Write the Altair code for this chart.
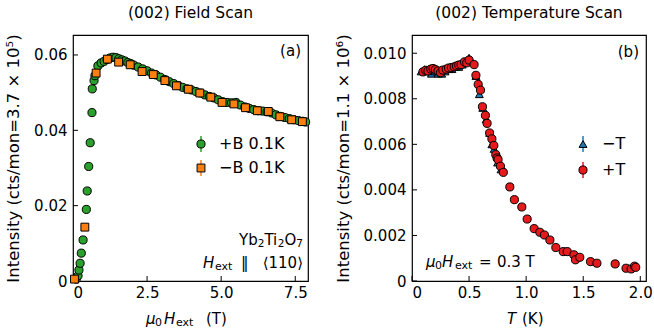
import altair as alt
import pandas as pd

FONT = "DejaVu Sans"
FS = 15
LFS = 16

# ---------------- data: (002) field scan ----------------
pB_field = [0.11, 0.17, 0.20, 0.24, 0.28, 0.34, 0.45, 0.48, 0.53, 0.58, 0.64, 0.65, 0.71, 0.74,
            0.84, 0.95, 1.05, 1.15, 1.25, 1.35, 1.45, 1.55, 1.65, 1.75, 1.85, 1.95, 2.05, 2.2, 2.35,
            2.5, 2.65, 2.8, 2.95, 3.1, 3.25, 3.4, 3.55, 3.7, 3.85, 4.0, 4.15, 4.3, 4.45, 4.6, 4.75,
            4.9, 5.05, 5.2, 5.35, 5.5, 5.65, 5.8, 5.95, 6.1, 6.25, 6.4, 6.55, 6.7, 6.85, 7.0, 7.15,
            7.3, 7.45, 7.6, 7.75, 7.85]
pB_int = [0.0005, 0.0014, 0.0029, 0.0047, 0.0074, 0.0109, 0.0190, 0.0239, 0.0304, 0.0367, 0.0447,
          0.0510, 0.0532, 0.0545, 0.0571, 0.0579, 0.0583, 0.0588, 0.0592, 0.0594, 0.0593, 0.0590,
          0.0587, 0.0584, 0.0580, 0.0577, 0.0573, 0.0568, 0.0563, 0.0558, 0.0552, 0.0547, 0.0541,
          0.0535, 0.0529, 0.0524, 0.0519, 0.0514, 0.0510, 0.0507, 0.0503, 0.0499, 0.0494, 0.0490,
          0.0486, 0.0481, 0.0476, 0.0474, 0.0473, 0.0474, 0.0467, 0.0462, 0.0458, 0.0455, 0.0452,
          0.0451, 0.0449, 0.0446, 0.0441, 0.0437, 0.0434, 0.0431, 0.0428, 0.0426, 0.0424, 0.0422]

mB_field = [0.05, 0.40, 0.78, 1.16, 1.54, 1.93, 2.33, 2.71, 3.10, 3.49, 3.89, 4.28, 4.65, 5.03,
            5.43, 5.82, 6.22, 6.59, 6.98, 7.38, 7.74]
mB_int = [0.0005, 0.0143, 0.0552, 0.0589, 0.0581, 0.0574, 0.0556, 0.0548, 0.0532, 0.0518, 0.0509,
          0.0499, 0.0488, 0.0474, 0.0470, 0.0460, 0.0452, 0.0450, 0.0436, 0.0428, 0.0423]

# ---------------- data: (002) temperature scan ----------------
mT_temp = [0.08, 0.11, 0.14, 0.17, 0.20, 0.23, 0.26, 0.29, 0.32, 0.35, 0.38, 0.41, 0.44, 0.47,
           0.50, 0.53, 0.56, 0.59, 0.62, 0.65, 0.68, 0.70, 0.72, 0.75, 0.78]
mT_int = [0.0092, 0.0093, 0.0092, 0.0091, 0.0092, 0.0091, 0.0091, 0.0092, 0.0093, 0.0093, 0.0094,
          0.0094, 0.0095, 0.0096, 0.0098, 0.0096, 0.0090, 0.0082, 0.0076, 0.0071, 0.0065, 0.0060,
          0.0058, 0.0052, 0.0049]

pT_temp = [0.096, 0.12, 0.14, 0.165, 0.184, 0.205, 0.228, 0.25, 0.27, 0.30, 0.32, 0.345, 0.37,
           0.39, 0.41, 0.43, 0.46, 0.48, 0.50, 0.544, 0.56, 0.58, 0.60, 0.617, 0.643, 0.658, 0.68,
           0.70, 0.717, 0.734, 0.745, 0.754, 0.775, 0.80, 0.857, 0.897, 0.962, 1.009, 1.07, 1.12,
           1.16, 1.208, 1.26, 1.325, 1.36, 1.418, 1.432, 1.47, 1.564, 1.62, 1.78, 1.875, 1.92,
           1.95, 1.96]
pT_int = [0.00918, 0.00925, 0.00922, 0.0093, 0.00933, 0.00928, 0.00922, 0.00915, 0.00926, 0.0093,
          0.00935, 0.00937, 0.0094, 0.00944, 0.00948, 0.0095, 0.00962, 0.00958, 0.0097, 0.0095,
          0.00903, 0.00863, 0.00838, 0.00765, 0.00727, 0.00692, 0.0065, 0.00624, 0.00595, 0.00555,
          0.0054, 0.00533, 0.00504, 0.00477, 0.00413, 0.00357, 0.00325, 0.00272, 0.0023, 0.00214,
          0.00202, 0.0018, 0.00147, 0.00129, 0.00129, 0.00115, 0.00093, 0.00104, 0.00085, 0.00078,
          0.00075, 0.00056, 0.00053, 0.00065, 0.0006]

field_xticks = [0, 2.5, 5.0, 7.5]
field_yticks = [0, 0.02, 0.04, 0.06]
temp_xticks = [0, 0.5, 1.0, 1.5, 2.0]
temp_yticks = [0, 0.002, 0.004, 0.006, 0.008, 0.010]

GREEN, ORANGE, BLUE, RED = "#2ca02c", "#ff7f0e", "#1f77b4", "#e41a1c"
W, H = 235, 246


def txt(s, x, y, size=FS, style="normal", align="left", baseline="middle"):
    return alt.Chart(pd.DataFrame({"t": [s]})).mark_text(
        align=align, baseline=baseline, fontSize=size, fontStyle=style, font=FONT, color="black"
    ).encode(x=alt.value(x), y=alt.value(y), text="t:N")


def sym(shape, color, x, y, size):
    bar = alt.Chart(pd.DataFrame({"a": [0]})).mark_rule(color=color, strokeWidth=1.5).encode(
        x=alt.value(x), y=alt.value(y - 8), y2=alt.value(y + 8))
    pt = alt.Chart(pd.DataFrame({"a": [0]})).mark_point(
        shape=shape, filled=True, fill=color, stroke="black", strokeWidth=1, size=size, opacity=1
    ).encode(x=alt.value(x), y=alt.value(y))
    return [bar, pt]


def panel(xdom, ydom, xt, yt, xfmt, yfmt, ytitle):
    xs = alt.Scale(domain=xdom, nice=False, zero=False)
    ys = alt.Scale(domain=ydom, nice=False, zero=False)
    xlab = f"datum.value == 0 ? '0' : format(datum.value, '{xfmt}')"
    ylab = f"datum.value == 0 ? '0' : format(datum.value, '{yfmt}')"
    xax = alt.Axis(values=xt, labelExpr=xlab, title=None)
    yax = alt.Axis(values=yt, labelExpr=ylab, title=ytitle)
    xtick = alt.Chart(pd.DataFrame({"v": xt})).mark_rule(color="black", strokeWidth=1).encode(
        x=alt.X("v:Q", scale=xs, axis=xax), y=alt.value(H), y2=alt.value(H - 5))
    ytick = alt.Chart(pd.DataFrame({"v": yt})).mark_rule(color="black", strokeWidth=1).encode(
        y=alt.Y("v:Q", scale=ys, axis=yax), x=alt.value(0), x2=alt.value(5))
    return xs, ys, xtick, ytick


def pts(xv, yv, shape, color, size, xs, ys):
    df = pd.DataFrame({"x": xv, "y": yv})
    return alt.Chart(df).mark_point(
        shape=shape, filled=True, fill=color, stroke="black", strokeWidth=1, size=size, opacity=1
    ).encode(x=alt.X("x:Q", scale=xs), y=alt.Y("y:Q", scale=ys))


# ---------- left panel ----------
xs1, ys1, xt1, yt1 = panel([0, 7.93], [0, 0.0653], field_xticks, field_yticks, ".1f", ".2f",
                           "Intensity (cts/mon=3.7 × 10⁵)")
left = alt.layer(
    xt1, yt1,
    pts(pB_field, pB_int, "circle", GREEN, 66, xs1, ys1),
    pts(mB_field, mB_int, "square", ORANGE, 62, xs1, ys1),
    *sym("circle", GREEN, 128, 109, 66),
    *sym("square", ORANGE, 128, 133, 62),
    txt("+B 0.1K", 146, 109, size=LFS),
    txt("−B 0.1K", 146, 133, size=LFS),
    txt("(a)", 228, 16, align="right"),
    txt("Yb", 166, 205),
    txt("2", 184.7, 209, size=10.5),
    txt("Ti", 191.4, 205),
    txt("2", 204.7, 209, size=10.5),
    txt("O", 211.4, 205),
    txt("7", 223.2, 209, size=10.5),
    txt("H", 130, 228, style="italic"),
    txt("ext", 142, 232, size=11),
    txt("‖", 168, 228),
    txt("⟨110⟩", 230, 228, align="right"),
    txt("μ", 73, H + 38, style="italic"),
    txt("0", 82, H + 42, size=11),
    txt("H", 91, H + 38, style="italic"),
    txt("ext", 103, H + 42, size=11),
    txt("(T)", 133, H + 38),
).properties(width=W, height=H, title="(002) Field Scan")

# ---------- right panel ----------
xs2, ys2, xt2, yt2 = panel([0, 2.05], [0, 0.0108], temp_xticks, temp_yticks, ".1f", ".3f",
                           "Intensity (cts/mon=1.1 × 10⁶)")
right = alt.layer(
    xt2, yt2,
    pts(mT_temp, mT_int, "triangle-up", BLUE, 62, xs2, ys2),
    pts(pT_temp, pT_int, "circle", RED, 66, xs2, ys2),
    *sym("triangle-up", BLUE, 171, 109, 62),
    *sym("circle", RED, 171, 135, 66),
    txt("−T", 190, 109, size=LFS),
    txt("+T", 190, 135, size=LFS),
    txt("(b)", 227, 17, align="right"),
    txt("μ", 14, 227, style="italic"),
    txt("0", 23, 231, size=11),
    txt("H", 30, 227, style="italic"),
    txt("ext", 43, 231, size=11),
    txt("=", 67, 227),
    txt("0.3 T", 85, 227),
    txt("T", 95, H + 38, style="italic"),
    txt("(K)", 110, H + 38),
).properties(width=W - 1, height=H, title="(002) Temperature Scan")

chart = alt.hconcat(left, right, spacing=21).properties(
    padding={"left": 5, "top": 5, "right": 0, "bottom": 0}
).configure_view(stroke="black", strokeWidth=1.2).configure_axis(
    grid=False, domain=False, ticks=False, labelFont=FONT, labelFontSize=FS, labelColor="black",
    labelPadding=6, titleFont=FONT, titleFontSize=16.5, titleColor="black", titleFontWeight="normal",
    titlePadding=12,
).configure_axisX(labelPadding=4).configure_title(
    font=FONT, fontSize=15.5, fontWeight="normal", color="black", offset=12
).configure_concat(spacing=21)

chart.save("out.html", embed_options={"renderer": "svg", "actions": False})
